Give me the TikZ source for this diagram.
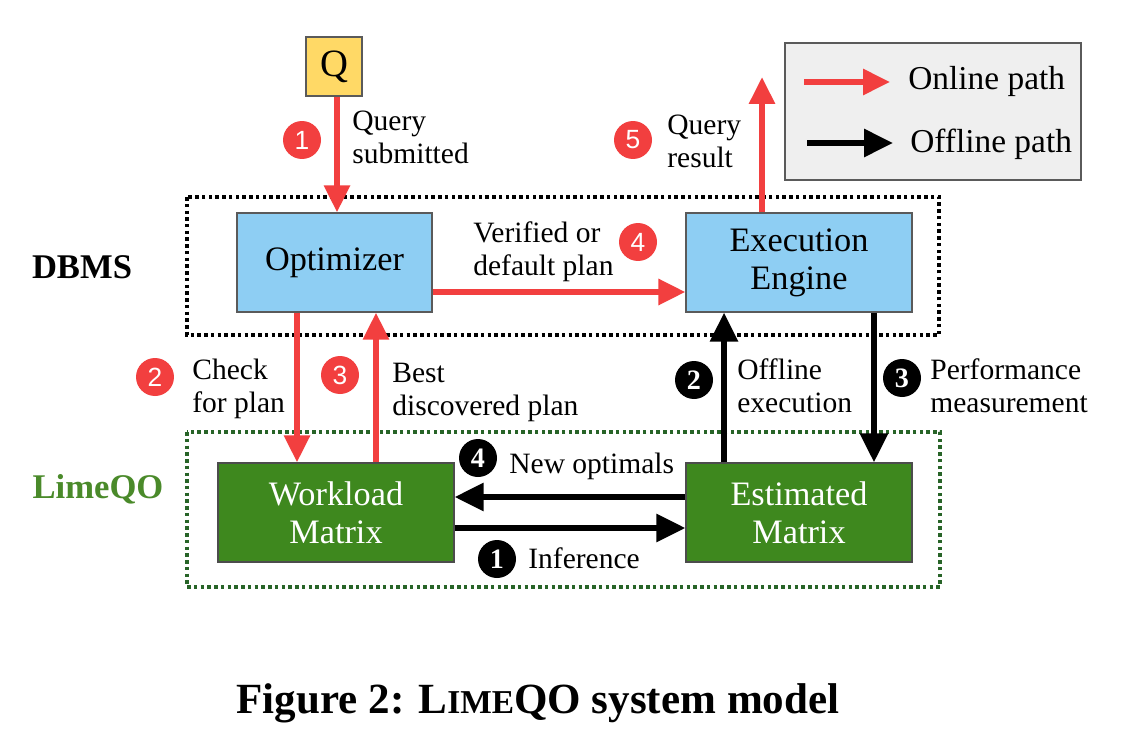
\documentclass[tikz,border=0pt]{standalone}
\usepackage{fontspec}
\setmainfont{Liberation Serif}
\newfontfamily\badgefont{Liberation Sans}
\usetikzlibrary{arrows.meta}
\definecolor{onred}{RGB}{242,63,63}
\definecolor{optblue}{RGB}{142,206,243}
\definecolor{boxgray}{RGB}{90,90,90}
\definecolor{matgreen}{RGB}{62,136,30}
\definecolor{limegreen}{RGB}{74,138,42}
\definecolor{dotgreen}{RGB}{40,100,40}
\definecolor{qyellow}{RGB}{255,217,102}
\definecolor{legfill}{RGB}{239,239,239}
\tikzset{
  boxlabel/.style={font=\fontsize{19.5}{21.5}\selectfont, align=center, draw=boxgray, line width=0.7pt, inner sep=0pt},
  bluebox/.style={boxlabel, fill=optblue},
  greenbox/.style={boxlabel, fill=matgreen, text=white, draw=black!70},
  note/.style={font=\fontsize{16.8}{18.7}\selectfont, align=left, anchor=base west, inner sep=0pt},
  legtext/.style={font=\fontsize{19}{22}\selectfont, anchor=base west, inner sep=0pt},
  onarrow/.style={draw=onred, line width=0.12cm, -{Triangle[width=0.5cm,length=0.54cm]}, color=onred},
  offarrow/.style={draw=black, line width=0.12cm, -{Triangle[width=0.54cm,length=0.58cm]}},
  redbadge/.style={circle, fill=onred, text=white, minimum size=0.76cm, inner sep=0pt, font=\badgefont\fontsize{15}{15}\selectfont},
  blackbadge/.style={circle, fill=black, text=white, minimum size=0.76cm, inner sep=0pt, font=\bfseries\fontsize{16}{16}\selectfont},
  region/.style={line width=0.07cm, dash pattern=on 0.07cm off 0.065cm},
  sidelabel/.style={font=\bfseries\fontsize{19.7}{22}\selectfont, inner sep=0pt}
}
\begin{document}
\begin{tikzpicture}[x=0.02cm, y=-0.02cm]
\useasboundingbox[fill=white] (0,0) rectangle (1148,750);

% regions
\draw[region, black] (187,197) rectangle (939,335);
\draw[region, dotgreen] (187,432) rectangle (940,587);
\node[sidelabel, anchor=base] (dbmslbl) at (82,278) {DBMS};
\node[sidelabel, anchor=base, text=limegreen] (limelbl) at (98,498) {LimeQO};

% legend
\node[draw=boxgray, fill=legfill, line width=0.7pt, minimum width=5.92cm, minimum height=2.74cm, inner sep=0pt] (legend) at (933,111.5) {};
\coordinate (lon1) at (804,82); \coordinate (lon2) at (890,82);
\coordinate (loff1) at (807,143); \coordinate (loff2) at (893,143);
\draw[onarrow] (lon1) -- (lon2);
\draw[offarrow] (loff1) -- (loff2);
\node[legtext] (lontext) at (908,90) {Online path};
\node[legtext] (lofftext) at (910,152) {Offline path};

% boxes
\node[draw=boxgray, fill=qyellow, line width=0.7pt, minimum width=1.12cm, minimum height=1.18cm, inner sep=0pt, font=\fontsize{22}{22}\selectfont] (Q) at (334,66.5) {Q};
\node[bluebox, minimum width=3.9cm, minimum height=1.98cm] (opt) at (334.5,262.5) {Optimizer};
\node[bluebox, minimum width=4.52cm, minimum height=1.98cm] (exec) at (799,262.5) {Execution\\Engine};
\node[greenbox, minimum width=4.72cm, minimum height=1.98cm] (work) at (336,512.5) {Workload\\Matrix};
\node[greenbox, minimum width=4.52cm, minimum height=1.98cm] (est) at (799,512.5) {Estimated\\Matrix};

% online connectors
\draw[onarrow] ([xshift=0.06cm]Q.south) -- ([xshift=0.06cm]Q.south |- opt.north);
\draw[onarrow] ([yshift=-0.59cm]opt.east) -- ([yshift=-0.59cm]exec.west);
\coordinate (resout) at (762,77);
\draw[onarrow] (resout |- exec.north) -- (resout);
\draw[onarrow] ([xshift=-0.75cm]opt.south) -- ([xshift=-0.75cm]opt.south |- work.north);
\draw[onarrow] ([xshift=0.83cm]opt.south |- work.north) -- ([xshift=0.83cm]opt.south);

% offline connectors
\draw[offarrow] ([yshift=0.31cm]est.west) -- ([yshift=0.31cm]est.west -| work.east);
\draw[offarrow] ([yshift=-0.31cm]work.east) -- ([yshift=-0.31cm]work.east -| est.west);
\draw[offarrow] ([xshift=-1.5cm]est.north) -- ([xshift=-1.5cm]est.north |- exec.south);
\draw[offarrow] ([xshift=1.5cm]exec.south) -- ([xshift=1.5cm]exec.south |- est.north);

% notes (base = baseline of the last line)
\node[note] (n1) at (352,163) {Query\\submitted};
\node[note] (n4) at (473,275) {Verified or\\default plan};
\node[note] (n5) at (667,167) {Query\\result};
\node[note] (n2) at (192,412) {Check\\for plan};
\node[note] (n3) at (392,415) {Best\\discovered plan};
\node[note] (m2) at (737,412) {Offline\\execution};
\node[note] (m3) at (930,412) {Performance\\measurement};
\node[note] (m4) at (509,473) {New optimals};
\node[note] (m1) at (528,568) {Inference};

% badges
\node[redbadge] (b1) at (302,140) {1};
\node[redbadge] (b4) at (638,242) {4};
\node[redbadge] (b5) at (633,140) {5};
\node[redbadge] (b2) at (155,377) {2};
\node[redbadge] (b3) at (340,375) {3};
\node[blackbadge] (k4) at (478,458) {4};
\node[blackbadge] (k1) at (497,559) {1};
\node[blackbadge] (k2) at (694,380) {2};
\node[blackbadge] (k3) at (902,378) {3};

% caption
\node[font=\bfseries\fontsize{24.5}{27}\selectfont, anchor=base, inner sep=0pt] (caption) at (538,713) {Figure 2: L{\fontsize{19}{20}\selectfont IME}QO system model};
\end{tikzpicture}
\end{document}
